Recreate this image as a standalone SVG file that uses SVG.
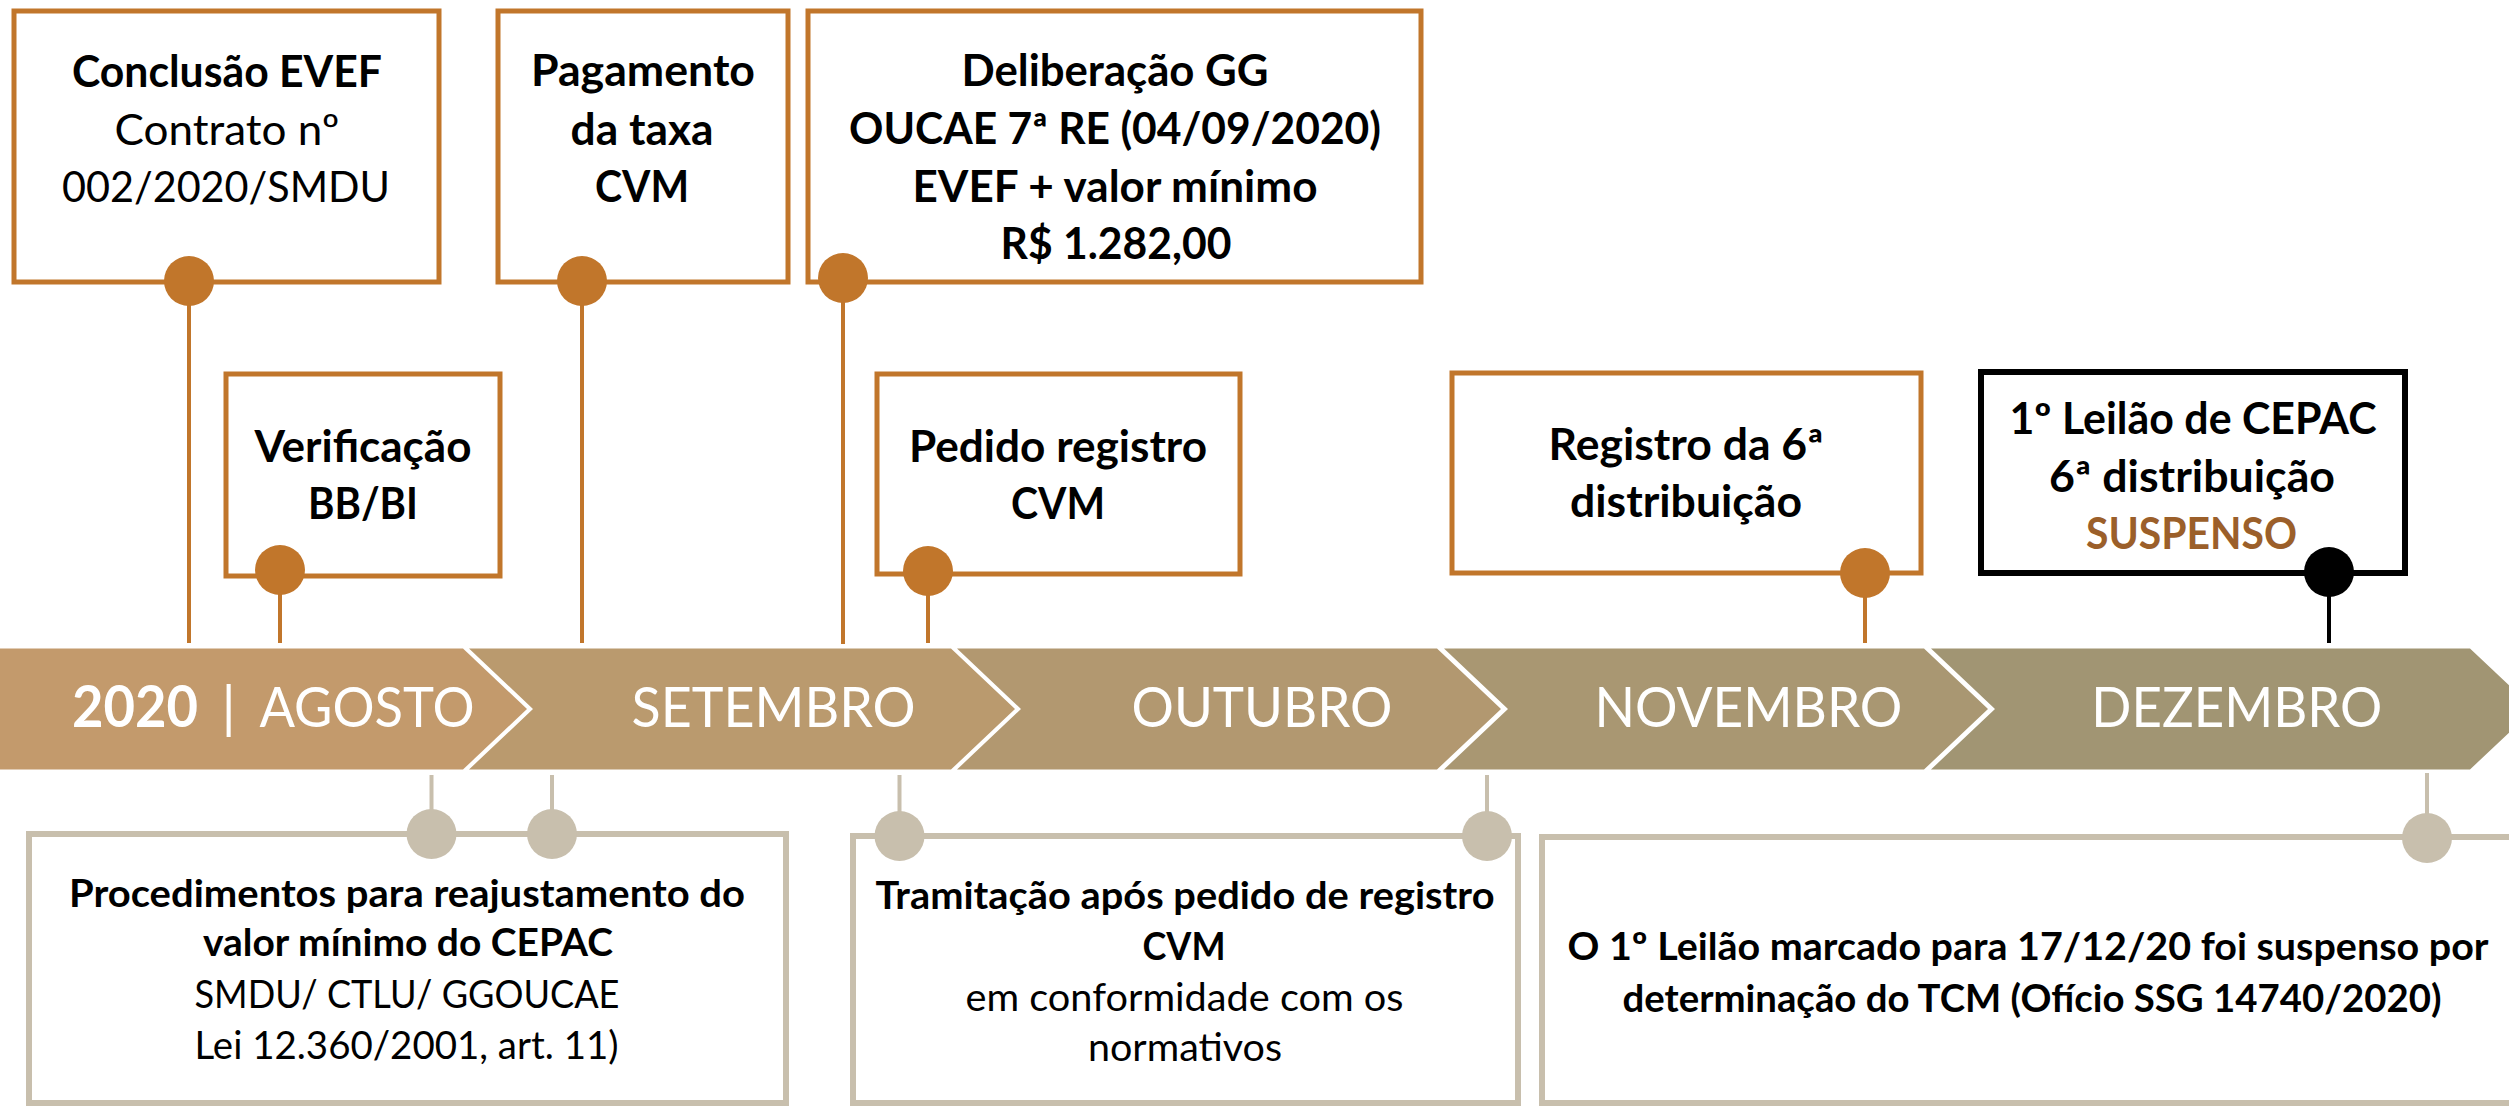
<svg xmlns="http://www.w3.org/2000/svg" width="2509" height="1106" viewBox="0 0 2509 1106">
<style>
.box{fill:#fff;stroke:#C1762B;stroke-width:5}
.gbox{fill:#fff;stroke:#C8BFAD;stroke-width:6}
.kbox{fill:#fff;stroke:#000;stroke-width:6}
.dot{fill:#C1762B}
.gdot{fill:#C8BFAD}
.kdot{fill:#000}
.ln{stroke:#C1762B;stroke-width:4}
.gln{stroke:#C8BFAD;stroke-width:4}
.kln{stroke:#000;stroke-width:4}
text{font-family:Lato,"Open Sans","Liberation Sans",sans-serif;text-anchor:middle;fill:#000}
.t{font-size:43px}
.b{font-weight:700}
.s{font-size:38px}
.m{font-size:57px;fill:#fff}
.sus{fill:#9B5F2A}
</style>
<rect width="2509" height="1106" fill="#fff"/>
<g id="timeline">
<polygon points="0,648.5 463,648.5 527,709 463,769.5 0,769.5" fill="#C39A6C"/>
<polygon points="469,648.5 951,648.5 1015,709 951,769.5 469,769.5 533,709" fill="#BA9A6E"/>
<polygon points="957,648.5 1437,648.5 1501,709 1437,769.5 957,769.5 1021,709" fill="#B29870"/>
<polygon points="1444,648.5 1924,648.5 1988,709 1924,769.5 1444,769.5 1508,709" fill="#A99772"/>
<polygon points="1931,648.5 2470,648.5 2534,709 2470,769.5 1931,769.5 1995,709" fill="#A19573"/>
<text class="m" y="727"><tspan x="135" font-weight="700" textLength="126" lengthAdjust="spacingAndGlyphs">2020</tspan><tspan x="228.7"> | </tspan><tspan x="367" textLength="215" lengthAdjust="spacingAndGlyphs">AGOSTO</tspan></text>
<text class="m" x="773.5" y="727" textLength="284" lengthAdjust="spacingAndGlyphs">SETEMBRO</text>
<text class="m" x="1262" y="727" textLength="261" lengthAdjust="spacingAndGlyphs">OUTUBRO</text>
<text class="m" x="1748.4" y="727" textLength="308" lengthAdjust="spacingAndGlyphs">NOVEMBRO</text>
<text class="m" x="2236.8" y="727" textLength="291" lengthAdjust="spacingAndGlyphs">DEZEMBRO</text>
</g>
<g id="n-conclusao">
<rect class="box" x="14" y="11" width="425" height="271"/>
<text class="t b" x="227" y="87" textLength="310" lengthAdjust="spacingAndGlyphs">Conclusão EVEF</text>
<text class="t" x="227" y="145" textLength="225" lengthAdjust="spacingAndGlyphs">Contrato nº</text>
<text class="t" x="226" y="202" textLength="328" lengthAdjust="spacingAndGlyphs">002/2020/SMDU</text>
</g>
<g id="n-pagamento">
<rect class="box" x="498" y="11" width="290" height="271"/>
<text class="t b" x="643" y="86" textLength="224" lengthAdjust="spacingAndGlyphs">Pagamento</text>
<text class="t b" x="642" y="145" textLength="143" lengthAdjust="spacingAndGlyphs">da taxa</text>
<text class="t b" x="642" y="202" textLength="94" lengthAdjust="spacingAndGlyphs">CVM</text>
</g>
<g id="n-deliberacao">
<rect class="box" x="808" y="11" width="613" height="271"/>
<text class="t b" x="1115" y="86" textLength="307" lengthAdjust="spacingAndGlyphs">Deliberação GG</text>
<text class="t b" x="1115" y="144" textLength="532" lengthAdjust="spacingAndGlyphs">OUCAE 7ª RE (04/09/2020)</text>
<text class="t b" x="1115" y="202" textLength="405" lengthAdjust="spacingAndGlyphs">EVEF + valor mínimo</text>
<text class="t b" x="1116" y="259" textLength="231" lengthAdjust="spacingAndGlyphs">R$ 1.282,00</text>
</g>
<g id="n-verificacao">
<rect class="box" x="226" y="374" width="274" height="202"/>
<text class="t b" x="363" y="462" textLength="217" lengthAdjust="spacingAndGlyphs">Verificação</text>
<text class="t b" x="363" y="518.5" textLength="110" lengthAdjust="spacingAndGlyphs">BB/BI</text>
</g>
<g id="n-pedido">
<rect class="box" x="877" y="374" width="363" height="200"/>
<text class="t b" x="1058" y="462" textLength="298" lengthAdjust="spacingAndGlyphs">Pedido registro</text>
<text class="t b" x="1058" y="518.5" textLength="94" lengthAdjust="spacingAndGlyphs">CVM</text>
</g>
<g id="n-registro">
<rect class="box" x="1452" y="373" width="469" height="200"/>
<text class="t b" x="1686" y="460" textLength="275" lengthAdjust="spacingAndGlyphs">Registro da 6ª</text>
<text class="t b" x="1686" y="517" textLength="232" lengthAdjust="spacingAndGlyphs">distribuição</text>
</g>
<g id="n-leilao">
<rect class="kbox" x="1981" y="372" width="424" height="201"/>
<text class="t b" x="2193" y="434" textLength="367" lengthAdjust="spacingAndGlyphs">1º Leilão de CEPAC</text>
<text class="t b" x="2192" y="492" textLength="286" lengthAdjust="spacingAndGlyphs">6ª distribuição</text>
<text class="t b sus" x="2191.5" y="549" textLength="211" lengthAdjust="spacingAndGlyphs">SUSPENSO</text>
</g>
<g id="n-procedimentos">
<rect class="gbox" x="29" y="834" width="757" height="269"/>
<text class="s b" x="407" y="907" textLength="676" lengthAdjust="spacingAndGlyphs">Procedimentos para reajustamento do</text>
<text class="s b" x="408" y="956" textLength="410" lengthAdjust="spacingAndGlyphs">valor mínimo do CEPAC</text>
<text class="s" x="407" y="1008" textLength="425" lengthAdjust="spacingAndGlyphs">SMDU/ CTLU/ GGOUCAE</text>
<text class="s" x="406.5" y="1059" textLength="424" lengthAdjust="spacingAndGlyphs">Lei 12.360/2001, art. 11)</text>
</g>
<g id="n-tramitacao">
<rect class="gbox" x="853" y="836" width="665" height="267"/>
<text class="s b" x="1185" y="909" textLength="619" lengthAdjust="spacingAndGlyphs">Tramitação após pedido de registro</text>
<text class="s b" x="1184" y="960" textLength="83" lengthAdjust="spacingAndGlyphs">CVM</text>
<text class="s" x="1184.5" y="1011" textLength="438" lengthAdjust="spacingAndGlyphs">em conformidade com os</text>
<text class="s" x="1185" y="1061" textLength="194" lengthAdjust="spacingAndGlyphs">normativos</text>
</g>
<g id="n-suspensao">
<rect class="gbox" x="1542" y="837" width="990" height="266"/>
<text class="s b" x="2028" y="960" textLength="921" lengthAdjust="spacingAndGlyphs">O 1º Leilão marcado para 17/12/20 foi suspenso por</text>
<text class="s b" x="2032" y="1012" textLength="819" lengthAdjust="spacingAndGlyphs">determinação do TCM (Ofício SSG 14740/2020)</text>
</g>
<g id="connectors">
<line class="ln" x1="189" y1="281" x2="189" y2="643"/>
<line class="ln" x1="280" y1="570" x2="280" y2="643"/>
<line class="ln" x1="582" y1="281" x2="582" y2="643"/>
<line class="ln" x1="843" y1="278" x2="843" y2="644"/>
<line class="ln" x1="928" y1="571" x2="928" y2="643"/>
<line class="ln" x1="1865" y1="573" x2="1865" y2="643"/>
<line class="kln" x1="2329" y1="572" x2="2329" y2="643"/>
<line class="gln" x1="431.5" y1="775" x2="431.5" y2="834"/>
<line class="gln" x1="552" y1="775" x2="552" y2="834"/>
<line class="gln" x1="899.5" y1="775" x2="899.5" y2="836"/>
<line class="gln" x1="1487" y1="775" x2="1487" y2="836"/>
<line class="gln" x1="2427" y1="773" x2="2427" y2="838"/>
<circle class="dot" cx="189" cy="281" r="25"/>
<circle class="dot" cx="582" cy="281" r="25"/>
<circle class="dot" cx="843" cy="278" r="25"/>
<circle class="dot" cx="280" cy="570" r="25"/>
<circle class="dot" cx="928" cy="571" r="25"/>
<circle class="dot" cx="1865" cy="573" r="25"/>
<circle class="kdot" cx="2329" cy="572" r="25"/>
<circle class="gdot" cx="431.5" cy="834" r="25"/>
<circle class="gdot" cx="552" cy="834" r="25"/>
<circle class="gdot" cx="899.5" cy="836" r="25"/>
<circle class="gdot" cx="1487" cy="836" r="25"/>
<circle class="gdot" cx="2427" cy="838" r="25"/>
</g>
</svg>
